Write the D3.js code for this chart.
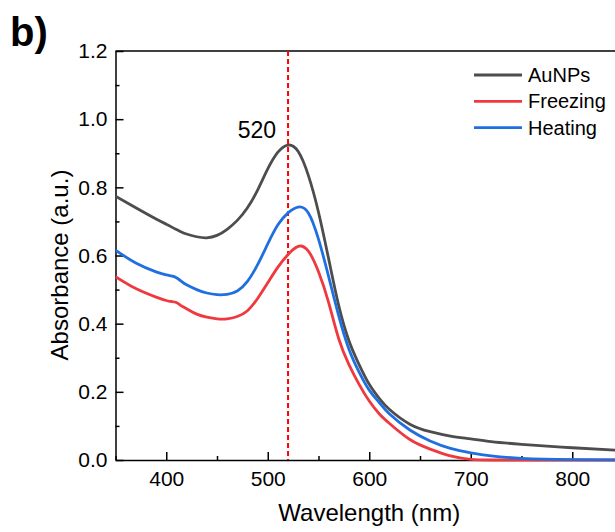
<!DOCTYPE html>
<html>
<head>
<meta charset="utf-8">
<script src="https://cdn.jsdelivr.net/npm/d3@7"></script>
<style>
  body { margin: 0; background: #fff; }
  svg { display: block; font-family: "Liberation Sans", Arial, sans-serif; }
</style>
</head>
<body>
<svg id="svg" width="615" height="532"></svg>
<script>
// wavelength grid (nm) shared by all three spectra
const wavelengths = [350, 370, 390, 400, 405, 410, 415, 420, 430, 440, 450, 460, 470, 480, 490, 500,
    510, 520, 530, 540, 550, 560, 570, 580, 590, 600, 610, 620, 640, 660, 680, 700, 720, 750, 800, 850];

const aunps = [0.774, 0.740, 0.707, 0.692, 0.684, 0.676, 0.669, 0.663, 0.655, 0.652, 0.659, 0.677,
    0.703, 0.740, 0.792, 0.854, 0.903, 0.924, 0.905, 0.835, 0.727, 0.590, 0.452, 0.350, 0.280, 0.222,
    0.180, 0.148, 0.105, 0.083, 0.070, 0.062, 0.054, 0.046, 0.036, 0.028];

const freezing = [0.538, 0.503, 0.478, 0.468, 0.465, 0.462, 0.452, 0.444, 0.428, 0.419, 0.414, 0.414,
    0.421, 0.438, 0.474, 0.520, 0.566, 0.603, 0.627, 0.613, 0.552, 0.462, 0.355, 0.280, 0.222, 0.173,
    0.135, 0.107, 0.060, 0.032, 0.012, 0.002, 0.000, 0.000, 0.000, 0.000];

const heating = [0.616, 0.578, 0.552, 0.543, 0.540, 0.535, 0.524, 0.514, 0.500, 0.490, 0.485, 0.486,
    0.496, 0.524, 0.573, 0.634, 0.690, 0.725, 0.742, 0.725, 0.648, 0.538, 0.422, 0.325, 0.258, 0.205,
    0.168, 0.135, 0.088, 0.056, 0.034, 0.021, 0.012, 0.005, 0.001, 0.000];

const seriesNames = ["AuNPs", "Freezing", "Heating"];
const seriesColors = ["#4d4d4d", "#f0393f", "#1f6fe0"];
const xMajor = [400, 500, 600, 700, 800];
const xMinor = [350, 450, 550, 650, 750, 850];
const yMajor = [0, 0.2, 0.4, 0.6, 0.8, 1.0, 1.2];
const yMinor = [0.1, 0.3, 0.5, 0.7, 0.9, 1.1];
const peakMark = 520;

const svg = d3.select("#svg");
const plotLeft = 115.5, plotRight = 623, plotTop = 51, plotBottom = 460;

const x = d3.scaleLinear([350, 850], [plotLeft, plotRight]);
const y = d3.scaleLinear([0, 1.2], [plotBottom, plotTop]);

// panel letter
svg.append("text")
    .attr("x", 10)
    .attr("y", 46)
    .attr("font-size", 40)
    .attr("font-weight", "bold")
    .text("b)");

// frame top line
svg.append("line")
    .attr("x1", plotLeft).attr("x2", plotRight)
    .attr("y1", y(1.2)).attr("y2", y(1.2))
    .attr("stroke", "#000").attr("stroke-width", 1.5);

// x axis
svg.append("g")
    .attr("transform", `translate(0, ${plotBottom})`)
    .call(d3.axisBottom(x).tickValues(xMajor).tickSize(-8).tickSizeOuter(0).tickPadding(11));
svg.append("g")
    .attr("transform", `translate(0, ${plotBottom})`)
    .call(d3.axisBottom(x).tickValues(xMinor).tickSize(-4).tickSizeOuter(0).tickFormat(""))
    .call(g => g.select(".domain").remove());

// y axis
svg.append("g")
    .attr("transform", `translate(${plotLeft}, 0)`)
    .call(d3.axisLeft(y).tickValues(yMajor).tickSize(-8).tickSizeOuter(0).tickPadding(8)
        .tickFormat(d3.format(".1f")));
svg.append("g")
    .attr("transform", `translate(${plotLeft}, 0)`)
    .call(d3.axisLeft(y).tickValues(yMinor).tickSize(-4).tickSizeOuter(0).tickFormat(""))
    .call(g => g.select(".domain").remove());

svg.selectAll(".domain, .tick line").attr("stroke", "#000").attr("stroke-width", 1.5);
svg.selectAll(".tick text")
    .attr("font-size", 21)
    .attr("font-family", "Liberation Sans, Arial, sans-serif")
    .attr("fill", "#000");

// axis titles
svg.append("text")
    .attr("x", (plotLeft + plotRight) / 2)
    .attr("y", 521)
    .attr("text-anchor", "middle")
    .attr("font-size", 24)
    .text("Wavelength (nm)");

svg.append("text")
    .attr("transform", `translate(68, 265) rotate(-90)`)
    .attr("text-anchor", "middle")
    .attr("font-size", 24)
    .text("Absorbance (a.u.)");

// plot clip
svg.append("clipPath").attr("id", "clip")
    .append("rect")
    .attr("x", plotLeft).attr("y", plotTop)
    .attr("width", plotRight - plotLeft).attr("height", plotBottom - plotTop + 2);

// dashed marker line
svg.append("line")
    .attr("x1", x(peakMark)).attr("x2", x(peakMark))
    .attr("y1", y(1.2)).attr("y2", y(0))
    .attr("stroke", "#ff0000")
    .attr("stroke-width", 2)
    .attr("stroke-dasharray", "5,3");

svg.append("text")
    .attr("x", x(peakMark) - 12)
    .attr("y", 138)
    .attr("text-anchor", "end")
    .attr("font-size", 23)
    .text(peakMark);

// spectra
const series = [aunps, freezing, heating].map((vals, i) => ({
    name: seriesNames[i],
    color: seriesColors[i],
    values: wavelengths.map((w, j) => ({w, a: vals[j]}))
}));

const line = d3.line()
    .x(d => x(d.w))
    .y(d => y(d.a))
    .curve(d3.curveNatural);

svg.append("g")
    .attr("clip-path", "url(#clip)")
    .selectAll("path")
    .data(series)
    .join("path")
    .attr("fill", "none")
    .attr("stroke", d => d.color)
    .attr("stroke-width", 2.8)
    .attr("stroke-linejoin", "round")
    .attr("d", d => line(d.values));

// legend
const legend = svg.append("g")
    .selectAll("g")
    .data(series)
    .join("g")
    .attr("transform", (d, i) => `translate(474, ${75 + i * 26.3})`);

legend.append("line")
    .attr("x1", 0).attr("x2", 48)
    .attr("stroke", d => d.color)
    .attr("stroke-width", 2.8);

legend.append("text")
    .attr("x", 54)
    .attr("dy", "0.35em")
    .attr("font-size", 20)
    .text(d => d.name);
</script>
</body>
</html>
